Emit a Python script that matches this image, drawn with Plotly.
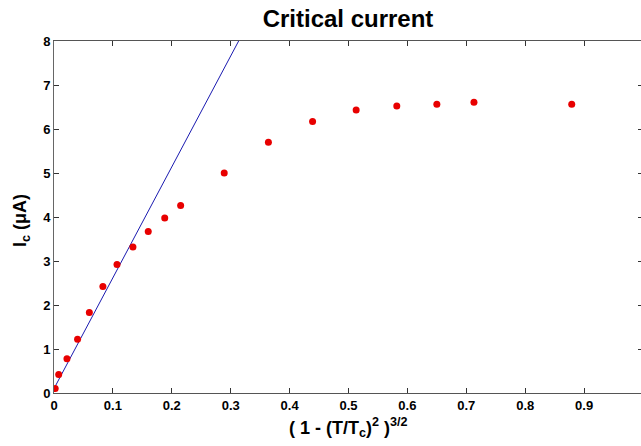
import plotly.graph_objects as go

# Measured data: x = (1 - (T/Tc)^2)^(3/2), y = Ic (uA)
x_vals = [0.002, 0.008, 0.022, 0.040, 0.060, 0.083, 0.107, 0.134, 0.160, 0.188,
          0.215, 0.289, 0.364, 0.439, 0.513, 0.582, 0.650, 0.713, 0.879]
ic_vals = [0.10, 0.42, 0.78, 1.22, 1.83, 2.42, 2.92, 3.32, 3.67, 3.98,
           4.26, 5.00, 5.70, 6.17, 6.43, 6.52, 6.56, 6.61, 6.56]

# Linear fit line (low-current regime)
fit_slope = 25.2
fit_intercept = 0.10
fit_x = [0.0, 0.40]
fit_y = [fit_intercept + fit_slope * xv for xv in fit_x]

x_ticks = [0, 0.1, 0.2, 0.3, 0.4, 0.5, 0.6, 0.7, 0.8, 0.9, 1]
x_ticklabels = ["0", "0.1", "0.2", "0.3", "0.4", "0.5", "0.6", "0.7", "0.8", "0.9", "1"]
y_ticks = [0, 1, 2, 3, 4, 5, 6, 7, 8]

FONT = "Liberation Sans, Arial, sans-serif"

fig = go.Figure()
fig.add_trace(go.Scatter(x=fit_x, y=fit_y, mode="lines",
                         line=dict(color="#1a1ab0", width=1), showlegend=False))
fig.add_trace(go.Scatter(x=x_vals, y=ic_vals, mode="markers",
                         marker=dict(color="#e80000", size=7, line=dict(width=0)),
                         showlegend=False))

fig.update_layout(
    width=643, height=446,
    margin=dict(l=54, r=0, t=41, b=53),
    paper_bgcolor="white", plot_bgcolor="white",
    font=dict(family=FONT, color="black"),
    title=dict(text="<b>Critical current</b>", x=(54 + 642) / 2 / 643, xanchor="center",
               yref="container", y=1 - 19 / 446, yanchor="middle",
               font=dict(size=24, family=FONT, color="black")),
    xaxis=dict(range=[0, 1], tickvals=x_ticks, ticktext=["<b>%s</b>" % t for t in x_ticklabels],
               ticks="inside", ticklen=5, tickcolor="#333", showline=True, linecolor="#555",
               linewidth=1, mirror="ticks", showgrid=False, zeroline=False,
               tickfont=dict(size=13, family=FONT, color="black"), automargin=False),
    yaxis=dict(range=[0, 8], tickvals=y_ticks, ticktext=["<b>%d</b>" % t for t in y_ticks],
               ticks="inside", ticklen=5, tickcolor="#333", showline=True, linecolor="#666",
               linewidth=1, mirror="ticks", showgrid=False, zeroline=False,
               tickfont=dict(size=13, family=FONT, color="black"), automargin=False),
    annotations=[
        dict(text="<b>( 1 - (T/T<sub>c</sub>)<sup>2</sup> )<sup>3/2</sup></b>",
             xref="paper", yref="paper", x=0.5, y=0, xanchor="center", yanchor="middle",
             yshift=-34, showarrow=False, font=dict(size=18, family=FONT, color="black")),
        dict(text="<b>I<sub>c</sub> (μA)</b>", textangle=-90,
             xref="paper", yref="paper", x=0, y=0.5, xanchor="center", yanchor="middle",
             xshift=-33, yshift=-4, showarrow=False, font=dict(size=18, family=FONT, color="black")),
    ],
)

fig.write_html("out.html", config={"displayModeBar": False},
               post_script="document.body.style.margin='0';document.body.style.overflow='hidden';")
